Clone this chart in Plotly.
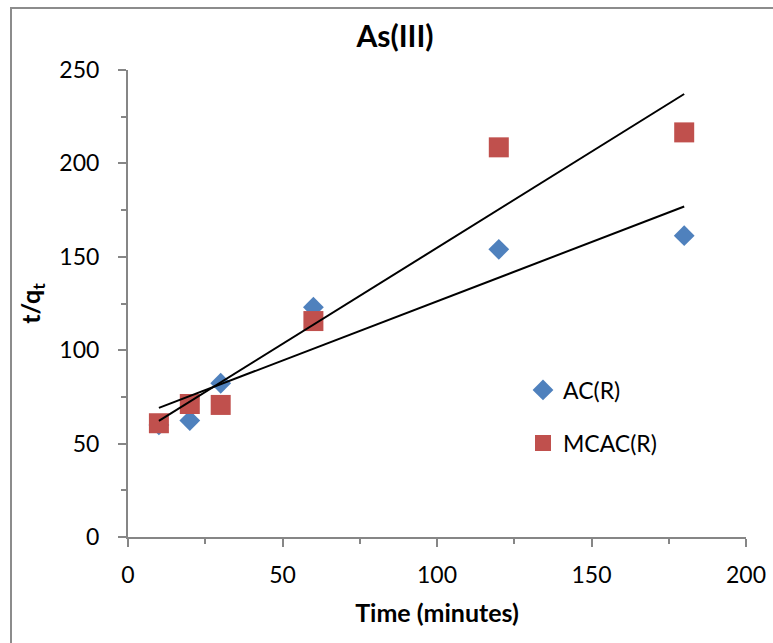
import numpy as np
import plotly.graph_objects as go

# Pseudo-second-order kinetics of As(III) adsorption
time_min = [10, 20, 30, 60, 120, 180]
ac_r = [60.0, 62.3, 82.3, 123.0, 154.0, 161.3]
mcac_r = [60.9, 71.2, 70.7, 115.6, 208.6, 216.6]

x_ticks = [0, 50, 100, 150, 200]
y_ticks = [0, 50, 100, 150, 200, 250]

FONT = "Lato"
AXIS_GREY = "#868686"

W, H = 773, 643
M_L, M_R, M_T, M_B = 128, 27, 70, 106
PW, PH = W - M_L - M_R, H - M_T - M_B


def px_x(p):
    return (p - M_L) / PW


def px_y(p):
    return (H - M_B - p) / PH


def linear_fit(x, y):
    slope, intercept = np.polyfit(x, y, 1)
    xs = np.array([min(x), max(x)], dtype=float)
    return xs, slope * xs + intercept


fig = go.Figure()

fig.add_trace(go.Scatter(
    x=time_min, y=ac_r, mode="markers", name="AC(R)", legend="legend",
    marker=dict(symbol="diamond", size=16, color="#4F81BD", line=dict(width=0)),
))
fig.add_trace(go.Scatter(
    x=time_min, y=mcac_r, mode="markers", name="MCAC(R)", legend="legend2",
    marker=dict(symbol="square", size=20, color="#C0504D", line=dict(width=0)),
))

for series in (ac_r, mcac_r):
    fx, fy = linear_fit(time_min, series)
    fig.add_trace(go.Scatter(
        x=fx, y=fy, mode="lines", showlegend=False, hoverinfo="skip",
        line=dict(color="black", width=2),
    ))

axis_common = dict(
    showgrid=False, zeroline=False, showline=True, automargin=False,
    linecolor=AXIS_GREY, linewidth=2,
    ticks="outside", ticklen=8, tickwidth=2, tickcolor=AXIS_GREY,
    minor=dict(dtick=25, ticks="outside", ticklen=5, tickwidth=2, tickcolor=AXIS_GREY),
    tickfont=dict(family=FONT, size=23, color="black"),
)

fig.update_layout(
    width=W, height=H,
    margin=dict(l=M_L, r=M_R, t=M_T, b=M_B, autoexpand=False),
    paper_bgcolor="white", plot_bgcolor="white",
    title=dict(
        text="<b>As(III)</b>", x=px_x(395), xref="paper", xanchor="center",
        y=1 - 36 / H, yanchor="middle",
        font=dict(family=FONT, size=30, color="black"),
    ),
    xaxis=dict(
        range=[0, 200], tickvals=x_ticks, ticklabelstandoff=8,
        title=dict(text="<b>Time (minutes)</b>", standoff=18,
                   font=dict(family=FONT, size=25, color="black")),
        **axis_common,
    ),
    yaxis=dict(
        range=[0, 250], tickvals=y_ticks, ticklabelstandoff=14,
        title=dict(text="<b>t/q<sub>t</sub></b>", standoff=12,
                   font=dict(family=FONT, size=25, color="black")),
        **axis_common,
    ),
    legend=dict(
        x=px_x(523), y=px_y(390), xanchor="left", yanchor="middle",
        bgcolor="rgba(0,0,0,0)", borderwidth=0,
        font=dict(family=FONT, size=23, color="black"),
    ),
    legend2=dict(
        x=px_x(523), y=px_y(443), xanchor="left", yanchor="middle",
        bgcolor="rgba(0,0,0,0)", borderwidth=0,
        font=dict(family=FONT, size=23, color="black"),
    ),
    shapes=[dict(
        type="rect", xref="paper", yref="paper", layer="below",
        x0=px_x(11), x1=px_x(790), y0=px_y(660), y1=px_y(8),
        line=dict(color="#8c8c8c", width=2), fillcolor="rgba(0,0,0,0)",
    )],
    showlegend=True,
)

fig.write_html("out.html")
